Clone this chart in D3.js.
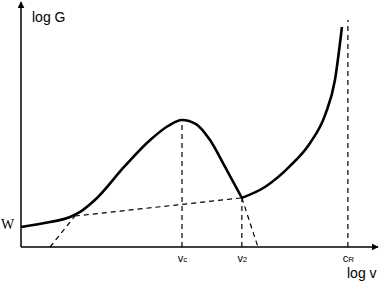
<!DOCTYPE html>
<html>
<head>
<meta charset="utf-8">
<script src="https://cdn.jsdelivr.net/npm/d3@7"></script>
<style>
  body { margin: 0; background: #fff; }
</style>
</head>
<body>
<div id="chart"></div>
<script>
// curve of log G against log v (data units 0..100)
var leftBranch = [
  [0, 8.3], [8.3, 10.3], [14.0, 12.4], [16.9, 14.5], [21.1, 19.4], [29.7, 33.5],
  [36.9, 44.2], [42.0, 50.0], [46.0, 52.5], [50.0, 50.8], [54.0, 44.2],
  [58.3, 33.1], [63.1, 20.3]
];
var rightBranch = [
  [63.1, 20.3], [69.7, 24.8], [76.9, 33.5], [82.6, 43.0],
  [86.9, 54.6], [89.7, 69.0], [91.7, 90.9]
];
// construction lines
var dashLines = [
  [[8.3, 0], [15.4, 12.8]],
  [[15.4, 12.8], [63.1, 20.3]],
  [[63.1, 20.3], [67.7, 0]],
  [[46.0, 0], [46.0, 52.5]],
  [[63.1, 0], [63.1, 20.3]],
  [[93.4, 0], [93.4, 93.8]]
];
var tickValues = [46.0, 63.1, 93.4];
var tickMain = ["v", "v", "c"];
var tickSub = ["c", "2", "R"];
var wLevel = 8.3;

var width = 381, height = 281;
var x = d3.scaleLinear().domain([0, 100]).range([21, 371]);
var y = d3.scaleLinear().domain([0, 100]).range([247, 5]);

var svg = d3.select("#chart").append("svg")
  .attr("width", width).attr("height", height);

var defs = svg.append("defs");
defs.append("marker")
  .attr("id", "arrow")
  .attr("viewBox", "0 0 10 10")
  .attr("refX", 9).attr("refY", 5)
  .attr("markerWidth", 7).attr("markerHeight", 7)
  .attr("markerUnits", "userSpaceOnUse")
  .attr("orient", "auto")
  .append("path").attr("d", "M0,0L10,5L0,10Z").attr("fill", "#000");

// axes
svg.append("line")
  .attr("x1", x(0)).attr("y1", y(0)).attr("x2", x(0)).attr("y2", 2)
  .attr("stroke", "#000").attr("stroke-width", 1.5)
  .attr("marker-end", "url(#arrow)");
svg.append("line")
  .attr("x1", x(0)).attr("y1", y(0)).attr("x2", 378).attr("y2", y(0))
  .attr("stroke", "#000").attr("stroke-width", 1.5)
  .attr("marker-end", "url(#arrow)");

var xAxis = svg.append("g")
  .attr("transform", "translate(0," + y(0) + ")")
  .call(d3.axisBottom(x).tickValues(tickValues).tickSize(0).tickFormat(""));
xAxis.select(".domain").remove();
xAxis.selectAll(".tick").each(function(d, i) {
  var t = d3.select(this).append("text")
    .attr("y", 15)
    .attr("fill", "#000")
    .attr("font-family", "Liberation Sans, Arial, sans-serif")
    .attr("font-size", 11)
    .attr("text-anchor", "middle");
  t.append("tspan").text(tickMain[i]);
  t.append("tspan").attr("font-size", 8).text(tickSub[i]);
});

// dashed lines
var line = d3.line().x(function(d) { return x(d[0]); }).y(function(d) { return y(d[1]); });
svg.selectAll(".dash")
  .data(dashLines)
  .enter().append("path")
  .attr("class", "dash")
  .attr("d", line)
  .attr("fill", "none")
  .attr("stroke", "#000")
  .attr("stroke-width", 1.2)
  .attr("stroke-dasharray", "5,4");

// main curve
var curve = d3.line()
  .x(function(d) { return x(d[0]); })
  .y(function(d) { return y(d[1]); })
  .curve(d3.curveMonotoneX);
[leftBranch, rightBranch].forEach(function(b) {
  svg.append("path")
    .attr("d", curve(b))
    .attr("fill", "none")
    .attr("stroke", "#000")
    .attr("stroke-width", 2.6)
    .attr("stroke-linejoin", "round");
});

// labels
svg.append("text").attr("x", 32).attr("y", 22)
  .attr("font-family", "Liberation Sans, Arial, sans-serif").attr("font-size", 14)
  .text("log G");
svg.append("text").attr("x", 347).attr("y", 278)
  .attr("font-family", "Liberation Sans, Arial, sans-serif").attr("font-size", 14)
  .text("log v");
svg.append("text").attr("x", 1).attr("y", y(wLevel) + 2)
  .attr("font-family", "Liberation Serif, Times New Roman, serif").attr("font-size", 14)
  .text("W");
</script>
</body>
</html>
